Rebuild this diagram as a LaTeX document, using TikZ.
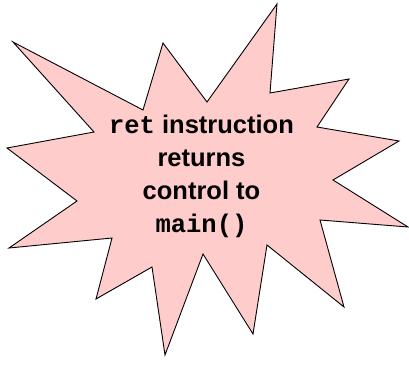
\documentclass[tikz,border=0pt]{standalone}
\usepackage{fontspec}
\setmainfont{Liberation Sans}
\setmonofont{Liberation Mono}
\definecolor{burstpink}{HTML}{FFCCCC}
\tikzset{
  burst/.style={fill=burstpink, draw=black, line width=0.9pt, line join=miter},
  note/.style={align=center, inner sep=0pt, font=\fontsize{25.5}{33}\selectfont\bfseries}
}
\begin{document}
\begin{tikzpicture}[x=1pt, y=-1pt]
    \useasboundingbox (0, 0) rectangle (409, 367);
    % the star
    \draw[burst] (277,4) -- (270,93) -- (349,79) -- (317,127) -- (399,141)
    -- (333,180) -- (408,227) -- (320,220) -- (344,307) -- (267,245)
    -- (253,334) -- (203,254) -- (165,355) -- (152,267) -- (96,299)
    -- (112,238) -- (9,248) -- (77,201) -- (7,148) -- (94,132)
    -- (13,42) -- (143,110) -- (163,43) -- (207,102) -- cycle;
    \node[note] (msg) at (201.5, 176) {\texttt{ret} instruction\\returns\\control to\\\texttt{main()}};
\end{tikzpicture}
\end{document}
